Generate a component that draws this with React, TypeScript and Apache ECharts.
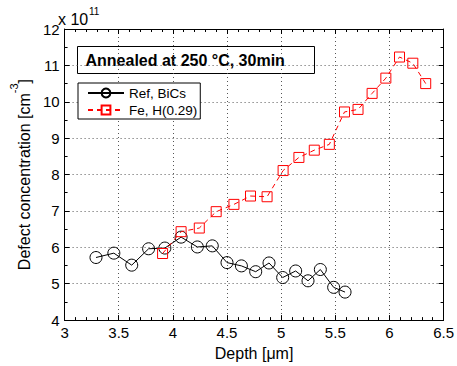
import React, { useEffect, useRef } from "react";
import * as echarts from "echarts";

// Depth [µm] and defect concentration [×1e11 cm^-3]
const refDepth = [3.29, 3.455, 3.62, 3.776, 3.926, 4.076, 4.226, 4.364, 4.5, 4.633, 4.765, 4.888, 5.014, 5.134, 5.248, 5.362, 5.485, 5.59];
const refValues = [5.72, 5.84, 5.51, 5.96, 5.98, 6.28, 6.01, 6.04, 5.58, 5.49, 5.33, 5.57, 5.17, 5.35, 5.08, 5.39, 4.9, 4.77];

const feDepth = [3.905, 4.076, 4.244, 4.4, 4.564, 4.717, 4.87, 5.018, 5.164, 5.306, 5.445, 5.585, 5.71, 5.84, 5.967, 6.093, 6.216, 6.335];
const feValues = [5.83, 6.43, 6.53, 6.98, 7.18, 7.41, 7.39, 8.11, 8.47, 8.67, 8.83, 9.72, 9.79, 10.23, 10.65, 11.23, 11.06, 10.5];

const seriesNames = ["Ref, BiCs", "Fe, H(0.29)"];
const titleText = "Annealed at 250 °C, 30min";

const xRange = { min: 3, max: 6.5, interval: 0.5 };
const yRange = { min: 4, max: 12, interval: 1 };

const FONT = "'Liberation Sans', Arial, sans-serif";

export default function App() {
  const ref = useRef<HTMLDivElement>(null);

  useEffect(() => {
    if (!ref.current) return;
    const chart = echarts.init(ref.current, undefined, { renderer: "svg" });

    const gridLine = { show: true, lineStyle: { color: "#555", width: 1, type: [1, 3] as any } };
    const frameLine = { show: true, onZero: false, lineStyle: { color: "#000", width: 1 } };

    const baseX = {
      type: "value" as const,
      ...xRange,
      axisLine: frameLine,
      axisTick: { show: true, inside: true, length: 5, lineStyle: { color: "#000" } },
      minorTick: { show: true, splitNumber: 5, length: 3, lineStyle: { color: "#000" } },
    };
    const baseY = {
      type: "value" as const,
      ...yRange,
      axisLine: frameLine,
      axisTick: { show: true, inside: true, length: 5, lineStyle: { color: "#000" } },
      minorTick: { show: true, splitNumber: 2, length: 3, lineStyle: { color: "#000" } },
    };

    chart.setOption({
      animation: false,
      backgroundColor: "#fff",
      textStyle: { fontFamily: FONT },
      grid: { left: 56, right: 12, top: 29, bottom: 41 },
      xAxis: [
        {
          ...baseX,
          position: "bottom",
          splitLine: gridLine,
          axisLabel: { color: "#000", fontSize: 15, fontFamily: FONT, margin: 5 },
          name: "Depth [μm]",
          nameLocation: "middle",
          nameGap: 21,
          nameTextStyle: { color: "#000", fontSize: 16, fontFamily: FONT },
        },
        {
          ...baseX,
          position: "top",
          splitLine: { show: false },
          axisLabel: { show: false },
        },
      ],
      yAxis: [
        {
          ...baseY,
          position: "left",
          splitLine: gridLine,
          axisLabel: { color: "#000", fontSize: 15, fontFamily: FONT, margin: 5 },
          name: "{n|Defect concentration [cm}{s|-3}{n|]}",
          nameLocation: "middle",
          nameRotate: 90,
          nameGap: 27,
          nameTextStyle: {
            color: "#000",
            fontFamily: FONT,
            rich: {
              n: { fontSize: 16, fontFamily: FONT, color: "#000", lineHeight: 24, verticalAlign: "bottom" },
              s: { fontSize: 11, fontFamily: FONT, color: "#000", lineHeight: 24, verticalAlign: "top" },
            },
          },
        },
        {
          ...baseY,
          position: "right",
          splitLine: { show: false },
          axisLabel: { show: false },
        },
      ],
      legend: {
        orient: "vertical",
        left: 78,
        top: 83,
        data: seriesNames,
        itemWidth: 36,
        itemHeight: 11,
        itemGap: 3,
        padding: [3, 3, 2, 9],
        borderColor: "#000",
        borderWidth: 1,
        backgroundColor: "#fff",
        textStyle: { color: "#000", fontSize: 13.5, fontFamily: FONT },
      },
      graphic: [
        {
          type: "group",
          left: 77,
          top: 46,
          children: [
            {
              type: "rect",
              shape: { x: 0, y: 0, width: 237, height: 27 },
              style: { fill: "#fff", stroke: "#000", lineWidth: 1 },
            },
            {
              type: "text",
              x: 8,
              y: 14,
              style: {
                text: titleText,
                font: `bold 16px ${FONT}`,
                fill: "#000",
                verticalAlign: "middle",
              },
            },
          ],
        },
        // axis multiplier: "x 10" with the exponent as a raised, smaller text
        {
          type: "text",
          x: 58,
          y: 27,
          style: {
            text: "x 10",
            font: `16px ${FONT}`,
            fill: "#000",
            verticalAlign: "bottom",
          },
        },
        {
          type: "text",
          x: 89,
          y: 6,
          style: {
            text: "11",
            font: `10px ${FONT}`,
            fill: "#000",
            verticalAlign: "top",
          },
        },
      ],
      series: [
        {
          name: seriesNames[0],
          type: "line",
          xAxisIndex: 0,
          yAxisIndex: 0,
          data: refDepth.map((d, i) => [d, refValues[i]]),
          symbol: "circle",
          symbolSize: 12,
          showAllSymbol: true,
          lineStyle: { color: "#000", width: 1 },
          itemStyle: { color: "rgba(0,0,0,0)", borderColor: "#000", borderWidth: 1 },
          emphasis: { disabled: true },
          z: 3,
        },
        {
          name: seriesNames[1],
          type: "line",
          xAxisIndex: 0,
          yAxisIndex: 0,
          data: feDepth.map((d, i) => [d, feValues[i]]),
          symbol: "rect",
          symbolSize: 10,
          showAllSymbol: true,
          lineStyle: { color: "#ff0000", width: 1, type: [5, 4] },
          itemStyle: { color: "rgba(0,0,0,0)", borderColor: "#ff0000", borderWidth: 1 },
          emphasis: { disabled: true },
          z: 4,
        },
      ],
    });

    return () => chart.dispose();
  }, []);

  return <div ref={ref} style={{ width: 457, height: 366, position: "absolute", left: 0, top: 0 }} />;
}
